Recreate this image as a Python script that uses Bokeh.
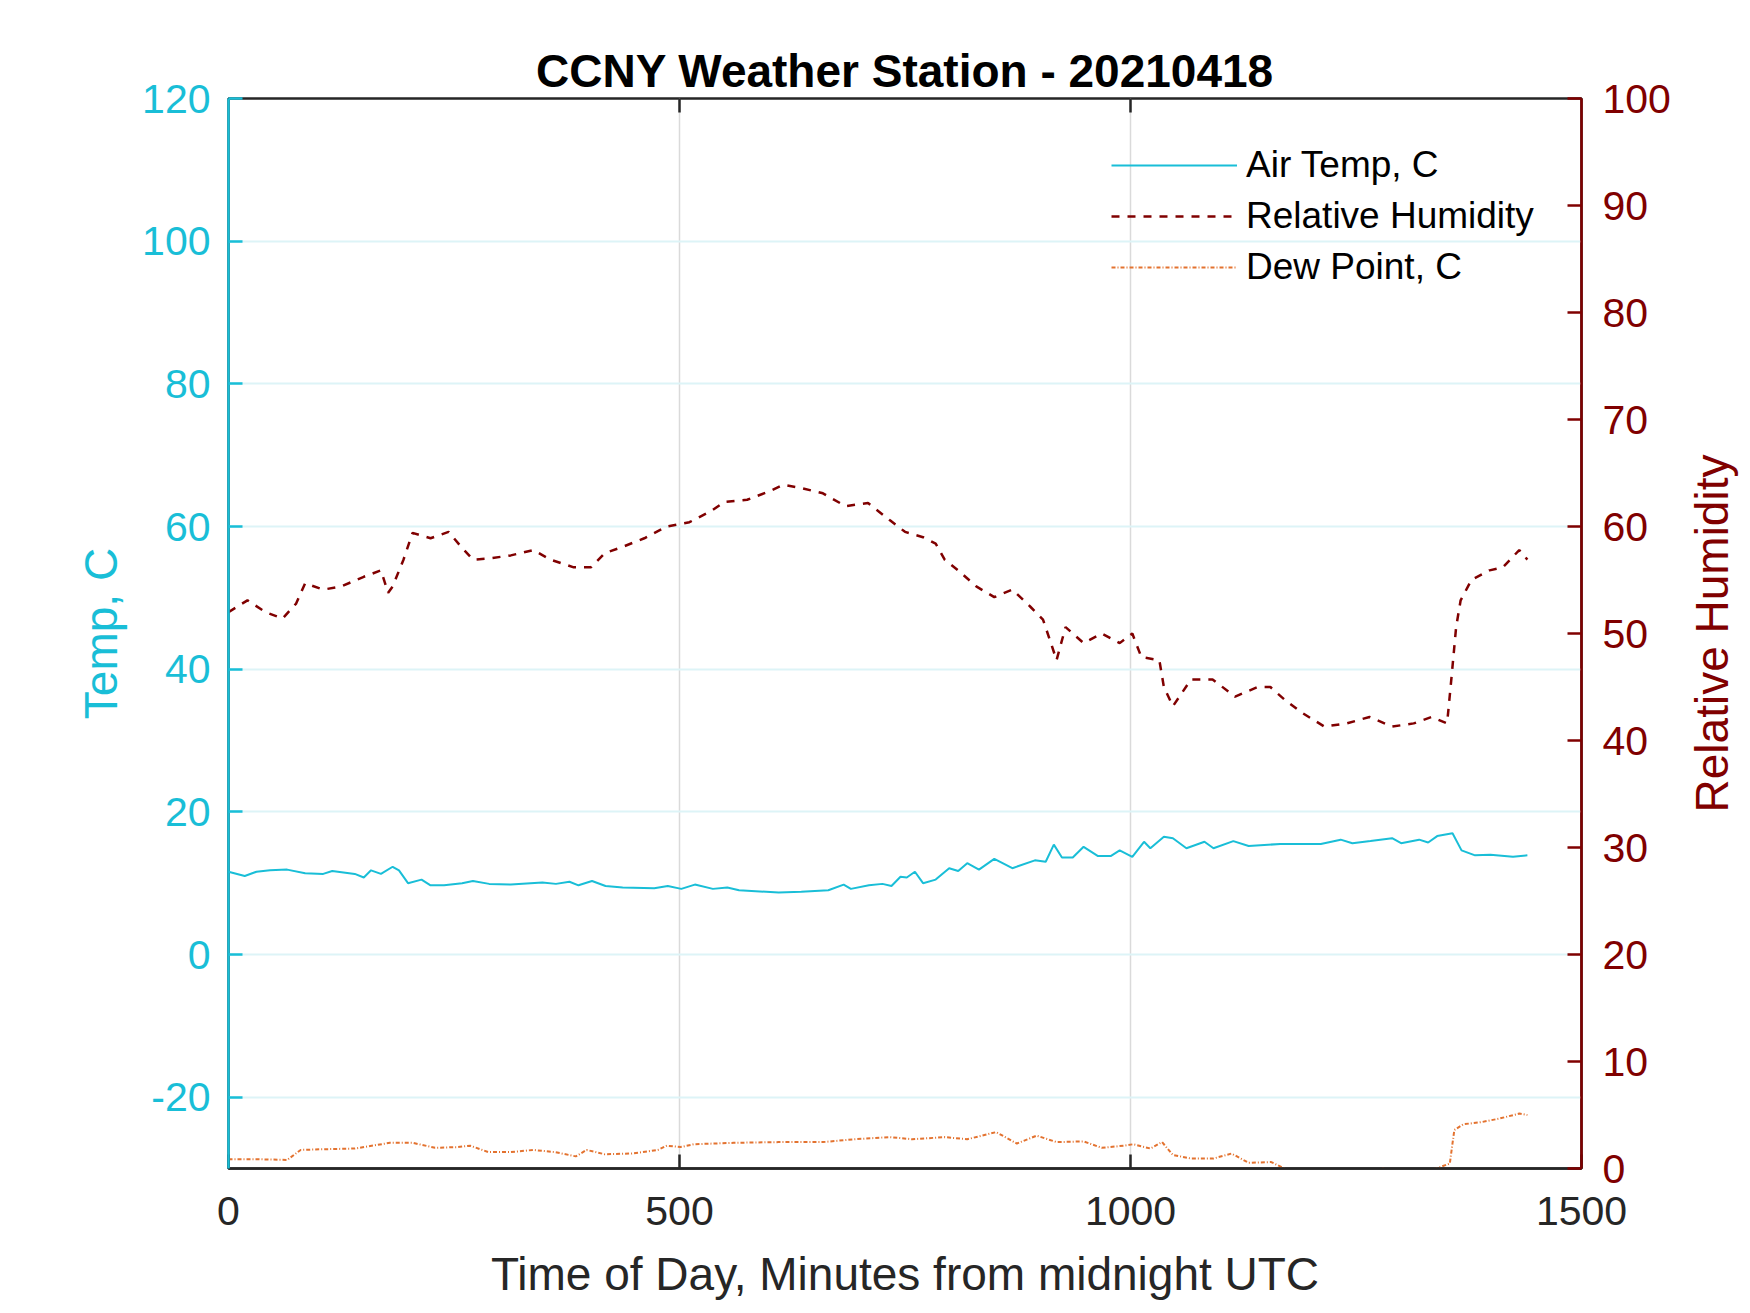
import math
from bokeh.plotting import figure
from bokeh.models import Range1d, LinearAxis, FixedTicker, Legend, LegendItem, ColumnDataSource, Label
from bokeh.embed import file_html
from bokeh.resources import INLINE

# ---------------- data ----------------
temp_t = [0, 18, 31, 46, 65, 85, 105, 115, 140, 150, 158, 169, 182, 189, 199, 214, 224, 239, 259,
          271, 289, 313, 348, 363, 378, 388, 403, 418, 437, 472, 487, 502, 517, 537, 553, 566, 610,
          635, 665, 682, 690, 710, 725, 735, 745, 752, 761, 770, 784, 799, 809, 819, 832, 849, 869,
          894, 906, 915, 924, 936, 948, 964, 978, 988, 1002, 1015, 1022, 1037, 1047, 1062, 1082,
          1092, 1114, 1131, 1166, 1211, 1233, 1246, 1266, 1290, 1300, 1320, 1330, 1340, 1357,
          1367, 1382, 1399, 1424, 1440]
temp_v = [11.6, 11.0, 11.6, 11.8, 11.9, 11.4, 11.3, 11.7, 11.3, 10.8, 11.8, 11.3, 12.3, 11.8, 10.0,
          10.5, 9.7, 9.7, 10.0, 10.3, 9.9, 9.8, 10.1, 9.9, 10.2, 9.7, 10.3, 9.6, 9.4, 9.3, 9.6, 9.2,
          9.8, 9.2, 9.4, 9.0, 8.7, 8.8, 9.0, 9.8, 9.2, 9.7, 9.9, 9.6, 10.9, 10.8, 11.6, 10.0, 10.5,
          12.1, 11.7, 12.8, 11.9, 13.4, 12.1, 13.2, 13.0, 15.4, 13.6, 13.6, 15.1, 13.8, 13.8, 14.6,
          13.7, 15.8, 14.9, 16.5, 16.3, 14.9, 15.8, 14.9, 15.9, 15.2, 15.5, 15.5, 16.1, 15.6, 15.9,
          16.3, 15.6, 16.1, 15.7, 16.6, 17.0, 14.6, 13.9, 14.0, 13.7, 13.9]

rh_t = [0, 21, 41, 60, 75, 85, 105, 125, 150, 169, 177, 182, 194, 204, 224, 244, 258, 271, 288,
        313, 338, 357, 382, 402, 417, 437, 461, 486, 511, 536, 550, 575, 600, 615, 635, 659, 684,
        709, 733, 750, 770, 784, 794, 809, 829, 849, 869, 889, 903, 913, 918, 928, 948, 968, 988,
        1002, 1012, 1032, 1037, 1047, 1067, 1091, 1116, 1141, 1155, 1171, 1190, 1215, 1240, 1265,
        1290, 1314, 1334, 1351, 1356, 1361, 1366, 1378, 1398, 1413, 1431, 1440]
rh_v = [52.0, 53.1, 52.0, 51.4, 52.8, 54.7, 54.1, 54.4, 55.3, 55.9, 53.8, 54.4, 56.9, 59.4, 58.9,
        59.5, 58.1, 56.9, 57.0, 57.3, 57.8, 56.9, 56.2, 56.2, 57.5, 58.1, 58.9, 60.0, 60.4, 61.5,
        62.3, 62.5, 63.3, 63.9, 63.6, 63.1, 61.9, 62.2, 60.6, 59.5, 59.0, 58.4, 56.9, 55.9, 54.4,
        53.4, 54.1, 52.5, 51.3, 48.8, 47.5, 50.6, 49.1, 50.0, 49.1, 50.0, 47.8, 47.5, 45.0, 43.2,
        45.7, 45.7, 44.1, 45.0, 45.0, 43.8, 42.6, 41.3, 41.6, 42.2, 41.3, 41.6, 42.2, 41.6, 46.0,
        50.6, 53.1, 55.0, 55.9, 56.2, 57.8, 56.9]

dew_t = [0, 31, 65, 80, 105, 140, 179, 204, 229, 254, 268, 288, 313, 338, 362, 385, 397, 417, 447,
         476, 486, 501, 516, 560, 610, 659, 694, 733, 758, 794, 819, 851, 874, 896, 918, 948, 968,
         993, 1003, 1022, 1035, 1047, 1067, 1092, 1112, 1131, 1156, 1171, 1185, 1230, 1260, 1280,
         1300, 1339, 1354, 1359, 1369, 1389, 1409, 1431, 1440]
dew_v = [-28.7, -28.7, -28.8, -27.4, -27.3, -27.2, -26.4, -26.4, -27.1, -27.0, -26.8, -27.7, -27.7,
         -27.4, -27.7, -28.3, -27.4, -28.0, -27.9, -27.4, -26.8, -27.0, -26.6, -26.4, -26.3, -26.3,
         -25.9, -25.6, -25.9, -25.6, -25.9, -24.9, -26.5, -25.4, -26.3, -26.2, -27.1, -26.8, -26.6,
         -27.2, -26.3, -28.1, -28.6, -28.6, -27.9, -29.2, -29.1, -30.0, -31.0, -31.5, -31.0, -30.0,
         -31.0, -30.0, -29.3, -24.6, -23.8, -23.5, -23.0, -22.3, -22.5]

x_ticks = [0, 500, 1000, 1500]
temp_ticks = [-20, 0, 20, 40, 60, 80, 100, 120]
rh_ticks = [0, 10, 20, 30, 40, 50, 60, 70, 80, 90, 100]

title_text = "CCNY Weather Station - 20210418"
x_label = "Time of Day, Minutes from midnight UTC"
y_label = "Temp, C"
y2_label = "Relative Humidity"
series_names = ["Air Temp, C", "Relative Humidity", "Dew Point, C"]

# ---------------- styling ----------------
CYAN = "#19BED7"
DARKRED = "#800000"
ORANGE = "#E3722F"
DARK = "#262626"
FONT = "Liberation Sans"
FRAME_W, FRAME_H = 1353, 1070
TICK_LEN = 14
Y_MIN, Y_MAX = -30, 120

p = figure(frame_width=FRAME_W, frame_height=FRAME_H,
           min_border_left=228, min_border_right=161, min_border_top=98, min_border_bottom=137,
           x_range=Range1d(0, 1500), y_range=Range1d(Y_MIN, Y_MAX),
           output_backend="svg", toolbar_location=None,
           x_axis_location=None, y_axis_location=None)
p.extra_y_ranges = {"rh": Range1d(0, 100)}
p.outline_line_color = DARK
p.outline_line_width = 2.5
p.background_fill_color = "white"
p.border_fill_color = "white"

p.title.text = title_text
p.title.text_font = FONT
p.title.text_font_size = "46px"
p.title.text_font_style = "bold"
p.title.text_color = "black"
p.title.align = "center"
p.title.standoff = 4


def style_axis(ax, color, ticks, label_size="41px"):
    ax.ticker = FixedTicker(ticks=ticks)
    ax.axis_line_color = color
    ax.axis_line_width = 2.5
    ax.major_tick_line_color = color
    ax.major_tick_line_width = 2.5
    ax.major_tick_in = TICK_LEN
    ax.major_tick_out = 0
    ax.minor_tick_line_color = None
    ax.major_label_text_color = color
    ax.major_label_text_font = FONT
    ax.major_label_text_font_size = label_size
    ax.axis_label_text_color = color
    ax.axis_label_text_font = FONT
    ax.axis_label_text_font_size = "46px"
    ax.axis_label_text_font_style = "normal"


xb = LinearAxis()
style_axis(xb, DARK, x_ticks)
xb.axis_label = x_label
xb.major_label_standoff = 28
xb.axis_label_standoff = 20
p.add_layout(xb, "below")

yl = LinearAxis()
style_axis(yl, CYAN, temp_ticks)
yl.major_label_overrides = {t: ("-%d" % -t if t < 0 else str(t)) for t in temp_ticks}
yl.axis_label = y_label
yl.major_label_standoff = 18
yl.axis_label_standoff = 12
p.add_layout(yl, "left")

yr = LinearAxis(y_range_name="rh")
style_axis(yr, DARKRED, rh_ticks)
yr.major_label_standoff = 21
p.add_layout(yr, "right")

# right-hand axis title, reading bottom-to-top as in the reference
rh_title = Label(x=38, y=FRAME_H / 2, x_units="screen", y_units="screen",
                 text=y2_label, angle=math.pi / 2, text_align="center", text_baseline="middle",
                 text_font=FONT, text_font_size="46px", text_color=DARKRED)
p.add_layout(rh_title, "right")

# top box edge ticks (pointing inward, like the bottom axis)
tick_units = TICK_LEN * (Y_MAX - Y_MIN) / FRAME_H
top_ticks = [t for t in x_ticks if 0 < t < 1500]
p.segment(x0=top_ticks, y0=[Y_MAX] * len(top_ticks), x1=top_ticks,
          y1=[Y_MAX - tick_units] * len(top_ticks), line_color=DARK, line_width=2.5)

p.xgrid.ticker = FixedTicker(ticks=[500, 1000])
p.xgrid.grid_line_color = "#DADADA"
p.xgrid.grid_line_width = 1.5
p.ygrid.ticker = FixedTicker(ticks=temp_ticks)
p.ygrid.grid_line_color = "#DDF4F7"
p.ygrid.grid_line_width = 2

src_t = ColumnDataSource(dict(x=temp_t, y=temp_v))
src_rh = ColumnDataSource(dict(x=rh_t, y=rh_v))
src_dp = ColumnDataSource(dict(x=dew_t, y=dew_v))

r_t = p.line("x", "y", source=src_t, line_color=CYAN, line_width=2)
r_rh = p.line("x", "y", source=src_rh, line_color=DARKRED, line_width=2.5,
              line_dash="8 8", y_range_name="rh")
r_dp = p.line("x", "y", source=src_dp, line_color=ORANGE, line_width=2,
              line_dash="4 2 1 2")

legend = Legend(items=[LegendItem(label=series_names[0], renderers=[r_t]),
                       LegendItem(label=series_names[1], renderers=[r_rh]),
                       LegendItem(label=series_names[2], renderers=[r_dp])],
                location=(883, 878), orientation="vertical",
                border_line_color=None, background_fill_alpha=0,
                label_text_font=FONT, label_text_font_size="37px", label_text_color="black",
                glyph_width=126, glyph_height=46, label_height=46, label_standoff=9,
                spacing=5, padding=0, margin=0)
p.add_layout(legend)

open("out.html", "w").write(file_html(p, INLINE))
